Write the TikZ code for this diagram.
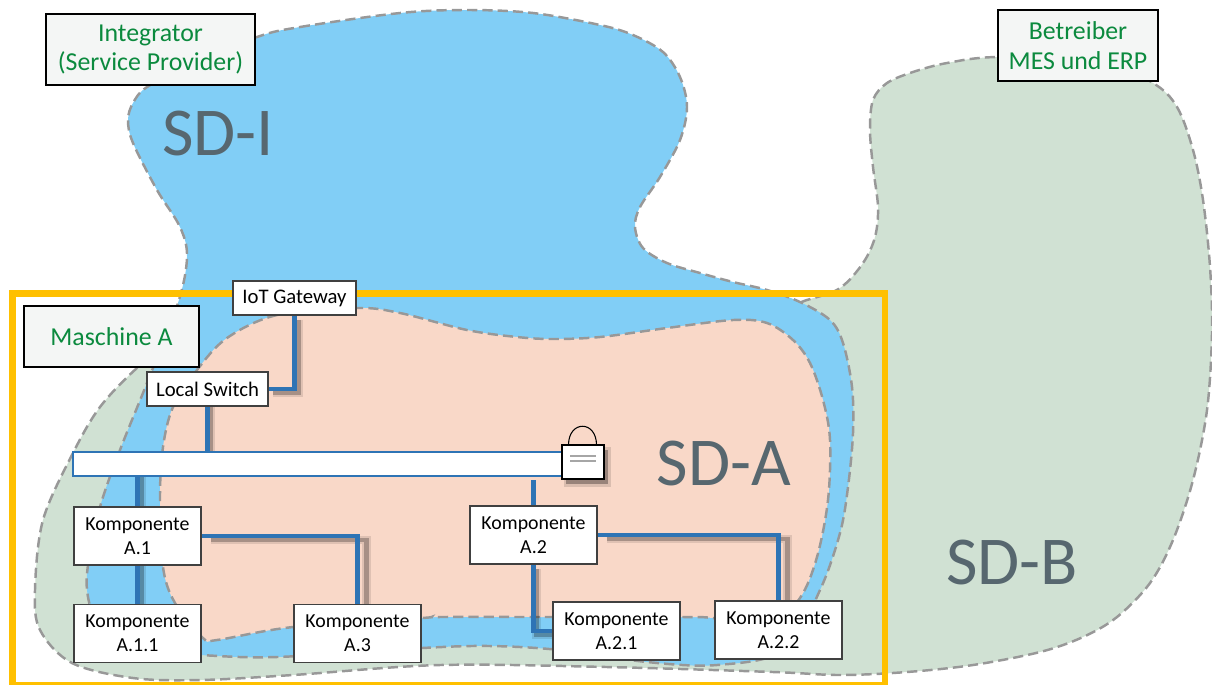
\documentclass[tikz,border=0pt]{standalone}
\usepackage{fontspec}
\setmainfont{Carlito}
\pgfdeclarelayer{zones}
\pgfdeclarelayer{links}
\pgfsetlayers{zones,links,main}
\definecolor{sdgreen}{HTML}{D0E1D3}
\definecolor{sdblue}{HTML}{81CEF6}
\definecolor{sdpeach}{HTML}{F9D8C8}
\definecolor{sdgrey}{HTML}{57676F}
\definecolor{dashgrey}{HTML}{989898}
\definecolor{linkblue}{HTML}{2E74B5}
\definecolor{frameorange}{HTML}{FFC000}
\definecolor{textgreen}{HTML}{0B8A3E}
\definecolor{tagfill}{HTML}{F4F6F5}
\tikzset{
  zone/.style={draw=dashgrey, line width=1.4pt, dash pattern=on 5.8pt off 2.9pt},
  zonelabel/.style={text=sdgrey, font=\fontsize{39}{42}\selectfont},
  tagbox/.style={draw=black, line width=1.1pt, fill=tagfill, text=textgreen, align=center, inner sep=0pt, font=\fontsize{14.7}{17}\selectfont},
  compbox/.style={draw=black!75, line width=0.6pt, fill=white, align=center, minimum width=127*0.02cm, minimum height=58*0.02cm, inner sep=0pt, font=\fontsize{11.3}{13.8}\selectfont},
  devbox/.style={draw=black!75, line width=0.6pt, fill=white, align=center, minimum height=34*0.02cm, inner sep=0pt, font=\fontsize{11.8}{14}\selectfont},
  link/.style={draw=linkblue, line width=2.7pt},
  softshadow/.style 2 args={
    preaction={draw=black, opacity=0.10, line width=5pt, transform canvas={shift={(#1,#2)}}},
    preaction={draw=black, opacity=0.25, line width=2.8pt, transform canvas={shift={(#1,#2)}}}},
}
\begin{document}
\begin{tikzpicture}[x=0.02cm, y=-0.02cm]
    \useasboundingbox (0,0) rectangle (1212,684);
    \clip (0,0) rectangle (1212,684);

    % security domains
    \begin{pgfonlayer}{zones}
    \draw[zone, fill=sdgreen] plot[smooth cycle, tension=0.55] coordinates {
        (997,57) (1100,60) (1153,83) (1177,107) (1193,150) (1203,200) (1210,267)
        (1212,333) (1207,410) (1193,480) (1173,540) (1150,583) (1117,617)
        (1083,637) (1040,652) (973,665) (907,672) (840,675) (773,672) (607,667)
        (440,665) (293,675) (200,680) (133,678) (72,663) (40,630) (35,590) (43,520)
        (73,453) (100,407) (137,368) (170,345) (300,335) (700,330) (807,300)
        (840,288) (863,263) (875,237) (878,207) (873,167) (870,130) (873,100)
        (887,83) (913,72) (947,63)};
    \draw[zone, fill=sdblue] plot[smooth cycle, tension=0.55] coordinates {
        (257,37) (300,27) (400,13) (467,10) (533,13) (600,25) (633,35) (663,52)
        (680,77) (687,107) (680,140) (660,177) (640,207) (635,227) (643,248)
        (667,263) (700,273) (733,282) (767,290) (800,302) (830,320) (843,343)
        (852,387) (853,433) (848,487) (840,533) (820,590) (785,650) (717,665)
        (647,662) (560,650) (490,646) (422,648) (277,657) (200,655) (130,650)
        (100,630) (88,597) (88,565) (100,507) (120,450) (147,383) (178,303)
        (187,257) (180,227) (157,190) (133,143) (128,120) (133,103) (147,87)
        (190,65)};
    \draw[zone, fill=sdpeach] plot[smooth cycle, tension=0.55] coordinates {
        (227,338) (277,315) (357,308) (400,313) (467,330) (517,337) (553,339)
        (600,337) (667,328) (733,320) (767,323) (793,340) (810,363) (823,400)
        (830,440) (828,500) (817,557) (800,598) (770,625) (713,618) (683,617)
        (560,617) (440,617) (422,618) (293,627) (217,640) (203,638) (175,603)
        (163,567) (160,497) (163,447) (173,407) (197,370)};

    % machine frame
    \draw[frameorange, line width=3.6pt] (12.5,293.5) rectangle (885,685);
    \end{pgfonlayer}

    % labels of the domains
    \node[zonelabel] (sdi) at (218,133) {SD-I};
    \node[zonelabel] (sda) at (724,463) {SD-A};
    \node[zonelabel] (sdb) at (1012,562) {SD-B};

    % boxes
    \node[tagbox, minimum width=209*0.02cm, minimum height=71*0.02cm] (integrator) at (150.5,49.5) {Integrator\\(Service Provider)};
    \node[tagbox, minimum width=160*0.02cm, minimum height=71*0.02cm] (betreiber) at (1078,45.5) {Betreiber\\MES und ERP};
    \node[tagbox, minimum width=175*0.02cm, minimum height=61*0.02cm] (maschine) at (111.5,336.5) {Maschine A};

    \node[devbox, minimum width=123*0.02cm] (gateway) at (294.5,298) {IoT Gateway};
    \node[devbox, minimum width=121*0.02cm] (switch) at (207.5,389) {Local Switch};
    \node[draw=linkblue, line width=1.4pt, fill=white, minimum width=490*0.02cm, minimum height=24*0.02cm, inner sep=0pt] (bus) at (318,464) {};

    \node[compbox] (a1) at (137.5,536) {Komponente\\A.1};
    \node[compbox] (a11) at (137.5,633.5) {Komponente\\A.1.1};
    \node[compbox] (a3) at (357.5,633.5) {Komponente\\A.3};
    \node[compbox] (a2) at (533.5,535) {Komponente\\A.2};
    \node[compbox] (a21) at (616.5,631) {Komponente\\A.2.1};
    \node[compbox] (a22) at (778.5,630) {Komponente\\A.2.2};

    % connectors
    \coordinate (busdrop) at (533.5,480);
    \begin{pgfonlayer}{links}
    \draw[link, softshadow={4}{4}] (gateway.south) |- (switch.east);
    \draw[link, softshadow={3}{0}] (switch.south) -- (switch.south |- bus.north);
    \draw[link, softshadow={4}{0}] (bus.south -| a1.north) -- (a1.north);
    \draw[link, softshadow={4}{0}] (a1.south) -- (a11.north);
    \draw[link, softshadow={9}{4}] (a1.east) -| (a3.north);
    \draw[link] (busdrop) -- (a2.north);
    \draw[link, softshadow={3}{4}] (a2.south) |- (a21.west);
    \draw[link, softshadow={9}{4}] (a2.east) -| (a22.north);
    \end{pgfonlayer}

    % lock on the bus
    \fill[black, opacity=0.12] (564,447) rectangle (611,487);
    \fill[black, opacity=0.30] (566,450) rectangle (608,484);
    \draw[black, line width=0.6pt] (568.5,445) .. controls (568.5,420) and (596.5,420) .. (596.5,445);
    \node[draw=black, line width=0.8pt, fill=white, minimum width=42*0.02cm, minimum height=34*0.02cm, inner sep=0pt] (lock) at (583,462) {};
    \draw[black!35, line width=1.2pt] (570,456) -- (596,456);
    \draw[black!35, line width=1.2pt] (570,461) -- (596,461);
\end{tikzpicture}
\end{document}
